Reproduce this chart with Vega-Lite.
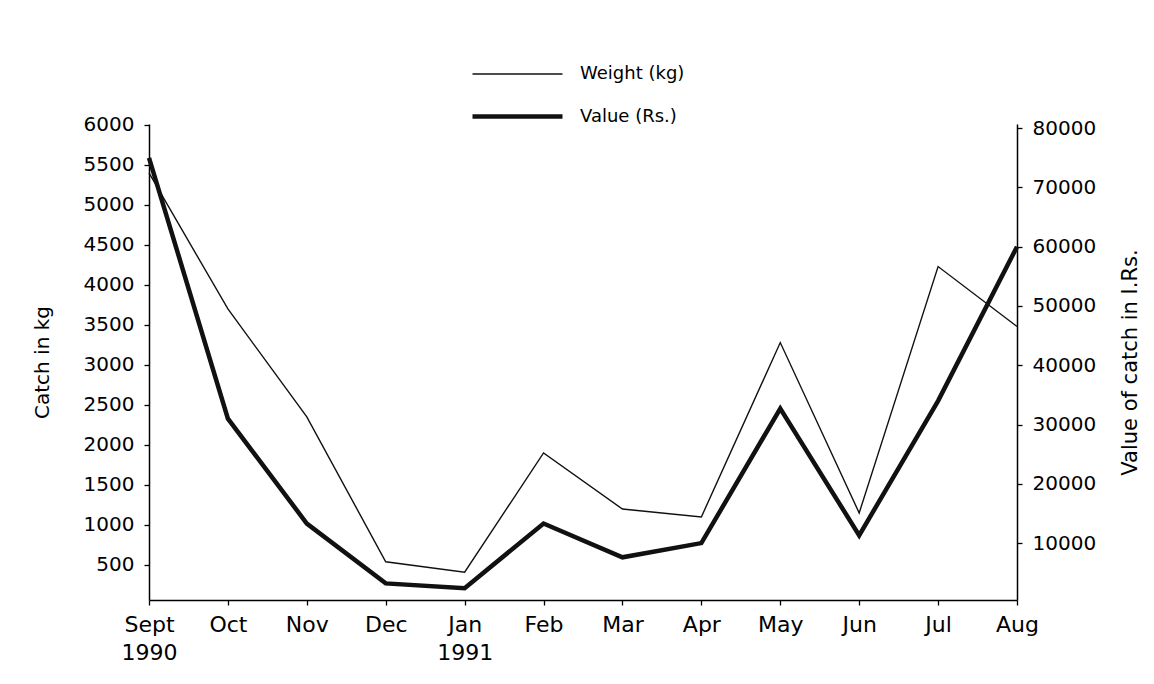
{
  "$schema": "https://vega.github.io/schema/vega-lite/v6.json",
  "autosize": "none",
  "width": 868,
  "height": 476,
  "padding": {"left": 149, "top": 124, "right": 137, "bottom": 84},
  "background": "white",
  "config": {
    "font": "DejaVu Sans",
    "view": {"stroke": null},
    "axis": {"domainColor": "black", "tickColor": "black", "labelColor": "black", "titleColor": "black", "grid": false, "domainWidth": 1.5, "tickWidth": 1.3, "titleFontWeight": "normal"}
  },
  "data": {
    "values": [
      {"month": "Sept", "series": "Weight (kg)", "value": 5400},
      {"month": "Oct", "series": "Weight (kg)", "value": 3700},
      {"month": "Nov", "series": "Weight (kg)", "value": 2350},
      {"month": "Dec", "series": "Weight (kg)", "value": 540},
      {"month": "Jan", "series": "Weight (kg)", "value": 410},
      {"month": "Feb", "series": "Weight (kg)", "value": 1900},
      {"month": "Mar", "series": "Weight (kg)", "value": 1200},
      {"month": "Apr", "series": "Weight (kg)", "value": 1100},
      {"month": "May", "series": "Weight (kg)", "value": 3280},
      {"month": "Jun", "series": "Weight (kg)", "value": 1150},
      {"month": "Jul", "series": "Weight (kg)", "value": 4230},
      {"month": "Aug", "series": "Weight (kg)", "value": 3480},
      {"month": "Sept", "series": "Value (Rs.)", "value": 75000},
      {"month": "Oct", "series": "Value (Rs.)", "value": 31000},
      {"month": "Nov", "series": "Value (Rs.)", "value": 13300},
      {"month": "Dec", "series": "Value (Rs.)", "value": 3200},
      {"month": "Jan", "series": "Value (Rs.)", "value": 2400},
      {"month": "Feb", "series": "Value (Rs.)", "value": 13300},
      {"month": "Mar", "series": "Value (Rs.)", "value": 7600},
      {"month": "Apr", "series": "Value (Rs.)", "value": 10000},
      {"month": "May", "series": "Value (Rs.)", "value": 32700},
      {"month": "Jun", "series": "Value (Rs.)", "value": 11300},
      {"month": "Jul", "series": "Value (Rs.)", "value": 34000},
      {"month": "Aug", "series": "Value (Rs.)", "value": 60000}
    ]
  },
  "encoding": {
    "x": {
      "field": "month",
      "type": "ordinal",
      "sort": ["Sept", "Oct", "Nov", "Dec", "Jan", "Feb", "Mar", "Apr", "May", "Jun", "Jul", "Aug"],
      "scale": {"type": "point", "padding": 0},
      "axis": {
        "title": null,
        "labelAngle": 0,
        "labelFontSize": 22,
        "labelPadding": 9,
        "labelLineHeight": 28,
        "tickSize": 5,
        "labelExpr": "datum.value == 'Sept' ? ['Sept', '1990'] : datum.value == 'Jan' ? ['Jan', '1991'] : datum.value"
      }
    }
  },
  "layer": [
    {
      "transform": [{"filter": "datum.series == 'Weight (kg)'"}],
      "mark": {"type": "line", "color": "#111"},
      "encoding": {
        "y": {
          "field": "value",
          "type": "quantitative",
          "scale": {"domain": [62, 6012], "nice": false, "zero": false},
          "axis": {
            "orient": "left",
            "values": [500, 1000, 1500, 2000, 2500, 3000, 3500, 4000, 4500, 5000, 5500, 6000],
            "format": "d",
            "labelFontSize": 20,
            "labelPadding": 10,
            "tickSize": 5,
            "title": "Catch in kg",
            "titleFontSize": 20,
            "titlePadding": 31
          }
        },
        "strokeWidth": {
          "field": "series",
          "type": "nominal",
          "scale": {"domain": ["Weight (kg)", "Value (Rs.)"], "range": [1.4, 4.5]},
          "legend": {
            "title": null,
            "orient": "none",
            "legendX": 351,
            "legendY": -66,
            "direction": "vertical",
            "symbolType": "M-3,0H3",
            "symbolSize": 900,
            "symbolStrokeColor": "#111",
            "symbolFillColor": "transparent",
            "labelFontSize": 18,
            "labelColor": "black",
            "labelOffset": 45,
            "rowPadding": 16
          }
        }
      }
    },
    {
      "transform": [{"filter": "datum.series == 'Value (Rs.)'"}],
      "mark": {"type": "line", "color": "#111"},
      "encoding": {
        "y": {
          "field": "value",
          "type": "quantitative",
          "scale": {"domain": [400, 80700], "nice": false, "zero": false},
          "axis": {
            "orient": "right",
            "values": [10000, 20000, 30000, 40000, 50000, 60000, 70000, 80000],
            "format": "d",
            "labelFontSize": 20,
            "labelPadding": 10,
            "tickSize": 5,
            "title": "Value of catch in I.Rs.",
            "titleFontSize": 21,
            "titleAngle": 270,
            "titleBaseline": "top",
            "titlePadding": 24
          }
        },
        "strokeWidth": {
          "field": "series",
          "type": "nominal",
          "scale": {"domain": ["Weight (kg)", "Value (Rs.)"], "range": [1.4, 4.5]}
        }
      }
    }
  ],
  "resolve": {"scale": {"y": "independent"}}
}
